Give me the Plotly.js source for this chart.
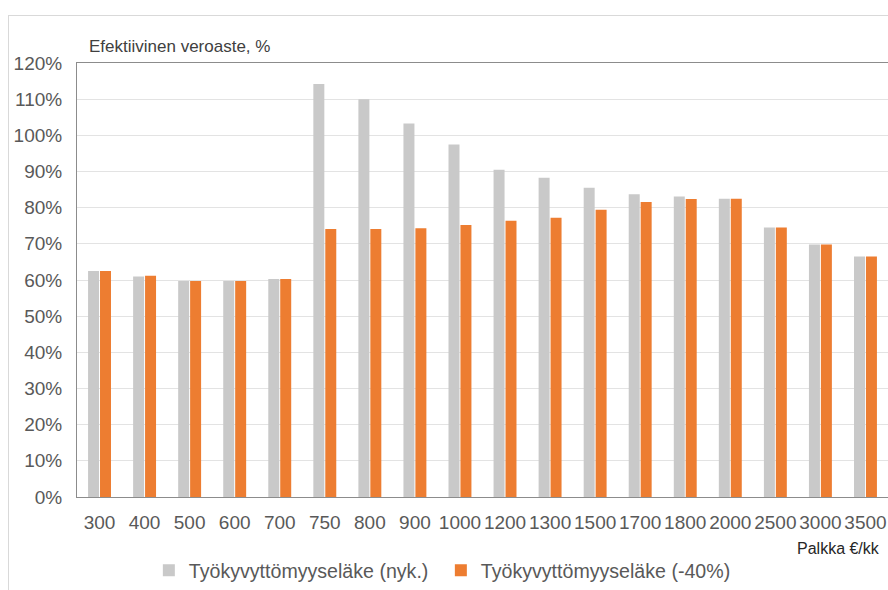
<!DOCTYPE html>
<html>
<head>
<meta charset="utf-8">
<script src="https://cdn.plot.ly/plotly-3.0.1.min.js"></script>
<style>
  html, body { margin: 0; padding: 0; background: #ffffff; overflow: hidden; }
  #wrap { position: relative; width: 888px; height: 590px; }
  #frame { position: absolute; left: 8px; top: 15px; width: 900px; height: 600px; border: 1px solid #d9d9d9; pointer-events: none; }
  #chart { position: absolute; left: 0; top: 0; width: 888px; height: 590px; }
</style>
</head>
<body>
<div id="wrap">
  <div id="chart"></div>
  <div id="frame"></div>
</div>
<script>
const categories = ['300','400','500','600','700','750','800','900','1000','1200','1300','1500','1700','1800','2000','2500','3000','3500'];
const currentPension = [0.625, 0.610, 0.597, 0.597, 0.603, 1.142, 1.100, 1.033, 0.975, 0.905, 0.883, 0.855, 0.837, 0.831, 0.825, 0.745, 0.698, 0.665];
const reducedPension = [0.625, 0.612, 0.597, 0.597, 0.603, 0.741, 0.741, 0.743, 0.752, 0.764, 0.772, 0.794, 0.816, 0.824, 0.825, 0.745, 0.698, 0.665];
const seriesNames = ['Työkyvyttömyyseläke (nyk.)', 'Työkyvyttömyyseläke (-40%)'];
const yTitle = 'Efektiivinen veroaste, %';
const xTitle = 'Palkka €/kk';

const font = 'Liberation Sans, Arial, sans-serif';

const traces = [
  { type: 'bar', x: categories, y: currentPension, name: seriesNames[0],
    marker: { color: '#c9c9c9' }, hoverinfo: 'skip' },
  { type: 'bar', x: categories, y: reducedPension, name: seriesNames[1],
    marker: { color: '#ed7d31' }, hoverinfo: 'skip' }
];

const layout = {
  width: 888, height: 590,
  margin: { l: 77, r: 0, t: 63, b: 90, pad: 0 },
  paper_bgcolor: '#ffffff', plot_bgcolor: '#ffffff',
  font: { family: font, color: '#595959', size: 19 },
  barmode: 'group',
  bargap: 0.47,
  bargroupgap: 0.08,
  showlegend: true,
  legend: {
    orientation: 'h', x: 0.0886, xanchor: 'left', y: -0.17, yanchor: 'middle',
    font: { family: font, size: 19.6, color: '#595959' },
    itemwidth: 30, entrywidth: 247, traceorder: 'normal'
  },
  xaxis: {
    type: 'category',
    showgrid: false, zeroline: false,
    showline: true, linecolor: '#8c8c8c', linewidth: 1, mirror: true,
    ticks: '', ticklabelstandoff: 8,
    tickfont: { family: font, size: 19, color: '#595959' },
    fixedrange: true
  },
  yaxis: {
    range: [0, 1.2], dtick: 0.1, tickformat: '.0%',
    showgrid: true, gridcolor: '#e3e3e3', gridwidth: 1,
    zeroline: false,
    showline: true, linecolor: '#8c8c8c', linewidth: 1, mirror: true,
    ticks: '', ticklabelstandoff: 10,
    tickfont: { family: font, size: 19, color: '#595959' },
    fixedrange: true
  },
  annotations: [
    { text: yTitle, xref: 'paper', yref: 'paper', x: 0.012, y: 1.0, xanchor: 'left', yanchor: 'bottom', yshift: 5,
      showarrow: false, font: { family: font, size: 17, color: '#404040' } },
    { text: xTitle, xref: 'paper', yref: 'paper', x: 0.993, y: -0.118, xanchor: 'right', yanchor: 'middle',
      showarrow: false, font: { family: font, size: 16, color: '#262626' } }
  ]
};

Plotly.newPlot('chart', traces, layout, { displayModeBar: false, staticPlot: true });
</script>
</body>
</html>
